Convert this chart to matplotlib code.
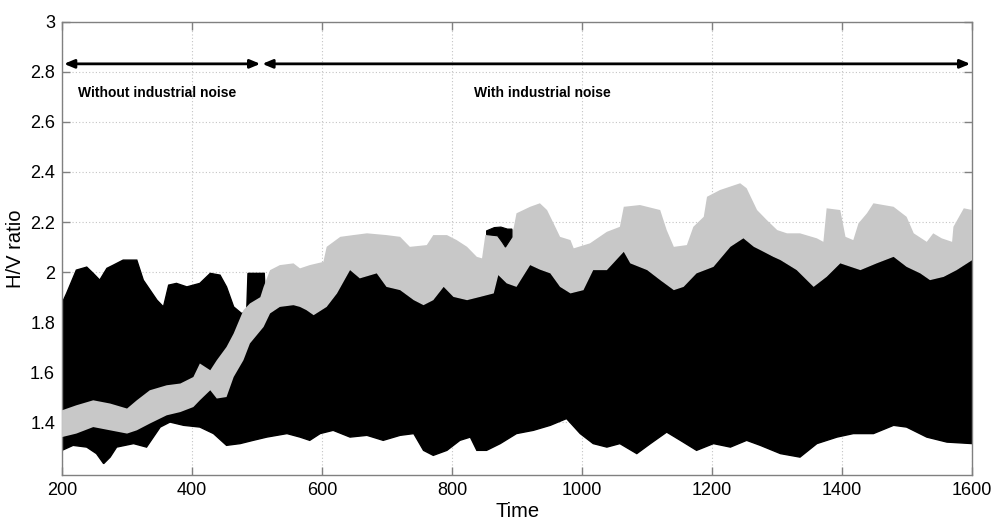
import numpy as np
import matplotlib
matplotlib.use("Agg")
import matplotlib.pyplot as plt

plt.rcParams['font.family'] = ['Liberation Sans', 'DejaVu Sans']

# --- Black band (spread of all H/V curves) -------------------------------
# upper edge before the grey curve takes over the top of the band
black_hi_t = [200, 207, 222, 238, 248, 258, 269, 279, 294, 315, 325, 346, 356,
              364, 376, 392, 412, 428, 443, 453, 464, 476, 484, 486, 511, 514]
black_hi_v = [1.875, 1.915, 2.008, 2.020, 1.995, 1.968, 2.015, 2.028, 2.048,
              2.048, 1.968, 1.888, 1.861, 1.948, 1.955, 1.941, 1.955, 1.995,
              1.988, 1.941, 1.861, 1.835, 1.840, 1.995, 1.995, 1.830]

# edge where the black band meets the grey band (t >= 520)
edge_t = [520, 535, 556, 566, 576, 587, 607, 623, 643, 658, 684, 699, 720, 741,
          756, 771, 787, 802, 823, 843, 864, 871, 884, 899, 920, 935, 951, 966,
          982, 1002, 1017, 1038, 1064, 1074, 1100, 1120, 1141, 1156, 1176, 1202,
          1228, 1248, 1264, 1274, 1294, 1305, 1330, 1356, 1376, 1397, 1428,
          1453, 1479, 1499, 1520, 1535, 1556, 1576, 1600]
edge_v = [1.835, 1.861, 1.868, 1.861, 1.848, 1.828, 1.861, 1.915, 2.008, 1.975,
          1.995, 1.941, 1.928, 1.888, 1.868, 1.888, 1.941, 1.901, 1.888, 1.901,
          1.915, 1.988, 1.955, 1.941, 2.028, 2.010, 1.995, 1.941, 1.915, 1.928,
          2.008, 2.008, 2.081, 2.035, 2.008, 1.968, 1.928, 1.941, 1.995, 2.021,
          2.101, 2.135, 2.101, 2.088, 2.061, 2.048, 2.008, 1.941, 1.981, 2.035,
          2.008, 2.035, 2.061, 2.021, 1.995, 1.968, 1.981, 2.008, 2.048]

black_lo_t = [200, 217, 238, 253, 264, 274, 284, 310, 330, 351, 366, 387, 412,
              433, 453, 474, 494, 515, 546, 566, 581, 597, 617, 643, 669, 694,
              720, 741, 756, 771, 792, 812, 828, 838, 853, 874, 899, 925, 951,
              976, 997, 1017, 1038, 1058, 1084, 1105, 1130, 1151, 1176, 1202,
              1228, 1253, 1274, 1305, 1335, 1361, 1392, 1417, 1448, 1479, 1499,
              1530, 1561, 1600]
black_lo_v = [1.288, 1.308, 1.301, 1.275, 1.235, 1.261, 1.301, 1.315, 1.301,
              1.381, 1.401, 1.388, 1.381, 1.355, 1.308, 1.315, 1.328, 1.341,
              1.355, 1.341, 1.328, 1.355, 1.368, 1.341, 1.348, 1.328, 1.348,
              1.355, 1.288, 1.268, 1.288, 1.328, 1.341, 1.288, 1.288, 1.315,
              1.355, 1.368, 1.388, 1.415, 1.355, 1.315, 1.301, 1.315, 1.275,
              1.315, 1.361, 1.328, 1.288, 1.315, 1.301, 1.328, 1.308, 1.275,
              1.261, 1.315, 1.341, 1.355, 1.355, 1.388, 1.381, 1.341, 1.321,
              1.315]

# --- Grey band (reference curve) -----------------------------------------
grey_hi_t = [200, 222, 248, 274, 300, 315, 335, 361, 382, 402, 412, 428, 438,
             453, 464, 479, 489, 505, 510, 520, 535, 556, 566, 581, 602, 607,
             628, 648, 669, 699, 720, 735, 761, 771, 792, 807, 823, 838, 846,
             851, 874, 894, 899, 920, 935, 946, 956, 966, 982, 987, 1012, 1038,
             1058, 1064, 1089, 1120, 1130, 1141, 1161, 1171, 1187, 1192, 1212,
             1243, 1253, 1269, 1284, 1300, 1315, 1335, 1361, 1371, 1376, 1397,
             1405, 1417, 1425, 1438, 1448, 1479, 1499, 1510, 1530, 1540, 1553,
             1569, 1571, 1587, 1600]
grey_hi_v = [1.448, 1.468, 1.488, 1.475, 1.455, 1.488, 1.528, 1.548, 1.555,
             1.581, 1.635, 1.608, 1.648, 1.701, 1.755, 1.848, 1.875, 1.900,
             1.941, 2.008, 2.028, 2.035, 2.015, 2.028, 2.041, 2.101, 2.141,
             2.148, 2.155, 2.148, 2.141, 2.101, 2.108, 2.148, 2.148, 2.128,
             2.101, 2.061, 2.055, 2.148, 2.161, 2.168, 2.235, 2.261, 2.275,
             2.248, 2.195, 2.141, 2.128, 2.095, 2.115, 2.161, 2.181, 2.261,
             2.268, 2.248, 2.168, 2.101, 2.108, 2.181, 2.221, 2.301, 2.328,
             2.355, 2.335, 2.248, 2.208, 2.168, 2.155, 2.155, 2.135, 2.121,
             2.255, 2.248, 2.141, 2.128, 2.195, 2.235, 2.275, 2.261, 2.221,
             2.155, 2.121, 2.155, 2.135, 2.121, 2.181, 2.255, 2.248]

# lower edge of the grey band before it rises above the black band
grey_lo_t = [200, 222, 248, 274, 300, 315, 335, 361, 382, 402, 412, 428, 438,
             453, 464, 479, 489, 510]
grey_lo_v = [1.341, 1.355, 1.381, 1.368, 1.355, 1.368, 1.395, 1.428, 1.441,
             1.461, 1.488, 1.528, 1.495, 1.501, 1.581, 1.648, 1.715, 1.781]

# isolated black excursion crossing the grey band near t = 880
spike_hi_t = [853, 865, 875, 885, 892]
spike_hi_v = [2.165, 2.178, 2.180, 2.172, 2.172]
spike_lo_t = [892, 887, 882, 877, 870, 853]
spike_lo_v = [2.140, 2.120, 2.100, 2.120, 2.145, 2.150]

xticks = [200, 400, 600, 800, 1000, 1200, 1400, 1600]
yticks = [1.4, 1.6, 1.8, 2.0, 2.2, 2.4, 2.6, 2.8, 3.0]
ytick_labels = ['1.4', '1.6', '1.8', '2', '2.2', '2.4', '2.6', '2.8', '3']


def band(upper_t, upper_v, lower_t, lower_v):
    """Polygon outline: upper edge left-to-right, lower edge right-to-left."""
    lt = np.asarray(lower_t, float)
    lv = np.asarray(lower_v, float)
    if lt[0] < lt[-1]:
        lt, lv = lt[::-1], lv[::-1]
    xs = np.concatenate([np.asarray(upper_t, float), lt])
    ys = np.concatenate([np.asarray(upper_v, float), lv])
    return xs, ys


fig = plt.figure(figsize=(9.91, 5.19), dpi=100)
ax = fig.add_axes([0.0626, 0.085, 0.9185, 0.873])

black_x, black_y = band(black_hi_t + edge_t, black_hi_v + edge_v,
                        black_lo_t, black_lo_v)
ax.fill(black_x, black_y, facecolor='black', edgecolor='black',
        linewidth=1.0, zorder=2)

grey_x, grey_y = band(grey_hi_t, grey_hi_v,
                      grey_lo_t + edge_t, grey_lo_v + edge_v)
ax.fill(grey_x, grey_y, facecolor='#c8c8c8', edgecolor='none', zorder=3)

spike_x, spike_y = band(spike_hi_t, spike_hi_v, spike_lo_t, spike_lo_v)
ax.fill(spike_x, spike_y, facecolor='black', edgecolor='black',
        linewidth=0.8, zorder=4)

ax.set_xlim(200, 1600)
ax.set_ylim(1.19, 3.0)
ax.set_xticks(xticks)
ax.set_yticks(yticks)
ax.set_yticklabels(ytick_labels)
ax.grid(True, color='#c4c4c4', linestyle=(0, (1, 2)), linewidth=0.8)
ax.set_axisbelow(True)
ax.tick_params(direction='in', length=6, width=1, color='#808080',
               top=True, right=True, labelsize=13, pad=5)
for s in ax.spines.values():
    s.set_color('#808080')
    s.set_linewidth(1.0)

ax.set_xlabel('Time', fontsize=14.5, labelpad=2)
ax.set_ylabel('H/V ratio', fontsize=14.5, labelpad=4)

# period markers
arrow_kw = dict(arrowstyle='<|-|>,head_length=0.6,head_width=0.25',
                color='black', lw=2.0, shrinkA=0, shrinkB=0)
ax.annotate('', xy=(203, 2.832), xytext=(505, 2.832), arrowprops=arrow_kw,
            zorder=5)
ax.annotate('', xy=(508, 2.832), xytext=(1597, 2.832), arrowprops=arrow_kw,
            zorder=5)
ax.text(224, 2.716, 'Without industrial noise', fontsize=10, fontweight='bold',
        va='center', ha='left')
ax.text(834, 2.716, 'With industrial noise', fontsize=10, fontweight='bold',
        va='center', ha='left')

fig.savefig('out.png', dpi=100)
